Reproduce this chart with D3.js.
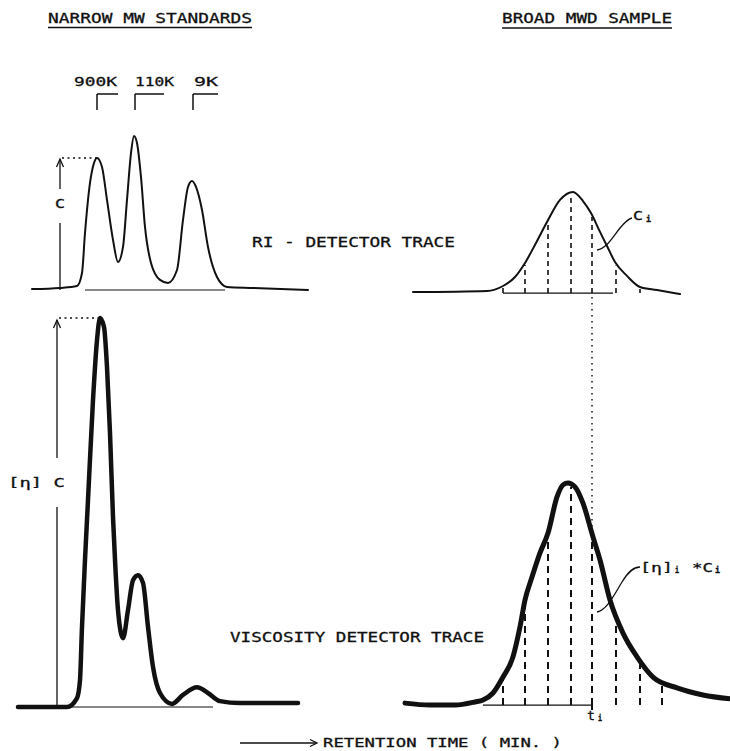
<!DOCTYPE html>
<meta charset="utf-8">
<head>
  <title>GPC viscometry principle</title>
  <style>
    body { margin: 0; background: #fff; }
    text { font-family: "DejaVu Sans Mono", monospace; fill: #111; stroke: #111; stroke-width: 0.3px; }
  </style>
</head>
<body>
<script src="https://cdnjs.cloudflare.com/ajax/libs/d3/7.8.5/d3.min.js"></script>
<script>
var WIDTH = 730,
    HEIGHT = 751;

// [retention time, signal %]
var riStandards = [
  [3.2, 0.6], [6.0, 1.3], [7.7, 2.5], [8.2, 10.6], [8.5, 35.6], [9.0, 66.9],
  [9.4, 79.4], [9.7, 82.5], [10.2, 76.9], [10.7, 56.3], [11.3, 31.3], [11.8, 17.5],
  [12.3, 26.9], [12.7, 56.3], [13.1, 85.6], [13.4, 96.3], [13.7, 91.9], [14.1, 70.6],
  [14.5, 39.4], [15.1, 16.9], [16.0, 6.3], [16.8, 4.4], [17.7, 12.5], [18.3, 43.8],
  [18.8, 64.4], [19.2, 68.1], [19.6, 64.4], [20.2, 50.0], [20.8, 26.9], [21.7, 8.1],
  [22.7, 1.9], [25.3, 1.3], [30.8, 0]
];

var riSample = [
  [41.3, -1.3], [48.7, -0.6], [50.3, 2.5], [51.5, 8.1], [52.5, 16.9], [53.6, 29.4],
  [54.7, 42.5], [56.0, 56.3], [57.3, 61.3], [58.3, 55.6], [59.1, 48.1], [60.0, 36.3],
  [60.7, 27.5], [61.5, 17.5], [62.7, 8.8], [64.0, 1.9], [65.7, 0], [68.0, -2.5]
];

var viscStandards = [
  [1.8, 0], [5.0, 0], [6.7, 0], [7.7, 2.3], [8.0, 6.9], [8.2, 20.6], [8.5, 37.8],
  [8.8, 53.2], [9.3, 78.9], [9.7, 94.3], [10.0, 100], [10.4, 97.7], [10.7, 87.4],
  [11.0, 70.4], [11.3, 48.8], [11.5, 37.8], [11.8, 24.9], [12.3, 17.7], [12.8, 24.9],
  [13.3, 32.6], [13.8, 33.9], [14.3, 31.9], [14.8, 20.6], [15.3, 10.3], [16.0, 3.6],
  [17.2, 0.8], [18.3, 3.1], [19.7, 5.1], [20.8, 3.6], [22.0, 1.5], [24.0, 1.0], [29.8, 1.0]
];

var viscSample = [
  [40.5, 1.0], [43.0, 0.5], [45.5, 0.5], [47.5, 1.3], [48.3, 1.8], [49.3, 3.6],
  [50.3, 7.7], [51.3, 12.9], [52.0, 20.6], [52.5, 27.5], [53.2, 33.4], [54.0, 39.6],
  [54.8, 44.7], [55.7, 54.0], [56.3, 57.1], [56.8, 57.6], [57.5, 56.6], [58.3, 52.4],
  [59.3, 43.7], [60.0, 37.8], [61.0, 27.5], [62.3, 19.0], [63.7, 12.9], [65.3, 7.7],
  [67.7, 4.9], [70.3, 3.1], [73.0, 2.1]
];

var sliceTimes = [50.3, 52.5, 54.8, 57.1, 59.2, 61.6, 64.0, 66.2];
var riSliceCount = 7;
var markedSlice = 4;

var peakNames = ["900K", "110K", "9K"];
var peakTimes = [9.7, 13.5, 19.3];

var x = d3.scaleLinear().domain([0, 73]).range([0, 730]);
var yRI = d3.scaleLinear().domain([0, 100]).range([290, 130]);
var yVisc = d3.scaleLinear().domain([0, 100]).range([707, 318]);

var svg = d3.select("body").append("svg")
    .attr("width", WIDTH)
    .attr("height", HEIGHT);

var ink = "#111";

function trace(data, y, width) {
  var line = d3.line()
      .x(function(d) { return x(d[0]); })
      .y(function(d) { return y(d[1]); })
      .curve(d3.curveMonotoneX);
  return svg.append("path")
      .datum(data)
      .attr("d", line)
      .attr("fill", "none")
      .attr("stroke", ink)
      .attr("stroke-width", width)
      .attr("stroke-linejoin", "round")
      .attr("stroke-linecap", "round");
}

// find y of a drawn curve at pixel column px
function yOnPath(node, px) {
  var lo = 0, hi = node.getTotalLength();
  for (var k = 0; k < 40; k++) {
    var mid = (lo + hi) / 2;
    if (node.getPointAtLength(mid).x < px) lo = mid; else hi = mid;
  }
  return node.getPointAtLength(lo).y;
}

function seg(x1, y1, x2, y2, w, dash) {
  var l = svg.append("line")
      .attr("x1", x1).attr("y1", y1).attr("x2", x2).attr("y2", y2)
      .attr("stroke", ink).attr("stroke-width", w);
  if (dash) l.attr("stroke-dasharray", dash);
  return l;
}

function label(txt, x0, len, yb, size) {
  return svg.append("text")
      .attr("x", x0).attr("y", yb)
      .attr("font-size", size)
      .attr("textLength", len)
      .attr("lengthAdjust", "spacingAndGlyphs")
      .text(txt);
}

function arrowUp(px, py) {
  svg.append("path")
      .attr("d", "M" + (px - 3.5) + "," + (py + 8) + "L" + px + "," + py + "L" + (px + 3.5) + "," + (py + 8))
      .attr("fill", "none").attr("stroke", ink).attr("stroke-width", 1.3);
}

// titles
label("NARROW MW STANDARDS", 48, 204, 23, 14);
seg(48, 27.5, 252, 27.5, 1.5);
label("BROAD MWD SAMPLE", 502, 170, 23, 14);
seg(502, 28, 672, 28, 1.5);

// baselines
seg(x(8.5), yRI(0), x(22.5), yRI(0), 1.2);
seg(x(50.3), yRI(-1.9), x(61.3), yRI(-1.9), 1.2);
seg(x(1.8), yVisc(0), x(21.3), yVisc(0), 1.2);
seg(x(48.3), yVisc(0.5), x(59.3), yVisc(0.5), 1.2);

// traces
var riStdPath = trace(riStandards, yRI, 2);
var riSamPath = trace(riSample, yRI, 2);
var viscStdPath = trace(viscStandards, yVisc, 4.5);
var viscSamPath = trace(viscSample, yVisc, 5);

// slices under the sample curves
sliceTimes.forEach(function(t, i) {
  var px = x(t);
  if (i < riSliceCount) {
    seg(px, yRI(-1.9), px, yOnPath(riSamPath.node(), px) + 2, 1.6, "5,4");
  }
  seg(px, yVisc(0.5), px, yOnPath(viscSamPath.node(), px) + 3, 2, "7,5");
});

// slice t_i carried from RI trace down to viscosity trace
var ti = x(sliceTimes[markedSlice]);
seg(ti, yRI(-1.9) + 4, ti, yOnPath(viscSamPath.node(), ti) - 4, 1.5, "1.5,4.5");
seg(ti, yVisc(0.5), ti, yVisc(0.5) + 5, 2);

// peak markers of standards
var peakLayout = [{dx: -23, len: 43, bar: 21}, {dx: 0, len: 39, bar: 29}, {dx: 1, len: 24, bar: 25}];
peakNames.forEach(function(name, i) {
  var px = x(peakTimes[i]);
  var lay = peakLayout[i];
  label(name, px + lay.dx, lay.len, 86, 13);
  seg(px, 94, px, 110, 1.5);
  seg(px, 94, px + lay.bar, 94, 1.5);
});

// C height marker
var cx = x(6.0), cTop = yRI(riStandards[7][1]);
seg(cx, yRI(0), cx, 223, 1.3);
seg(cx, 189, cx, cTop + 1, 1.3);
arrowUp(cx, cTop + 1);
seg(cx + 2, cTop, x(riStandards[7][0]), cTop, 1.3, "2,3.5");
label("C", cx - 5, 10, 208, 13);

// [eta] C height marker
var vx = x(5.7), vTop = yVisc(100);
seg(vx, yVisc(0), vx, 507, 1.3);
seg(vx, 458, vx, vTop + 2, 1.3);
arrowUp(vx, vTop + 2);
seg(vx + 2, vTop, x(10.0), vTop, 1.3, "2,3.5");
label("[η] C", 8, 57, 487, 13);

// trace names
label("RI - DETECTOR TRACE", 252, 203, 247, 14);
label("VISCOSITY DETECTOR TRACE", 230, 254, 642, 14);

// C_i annotation
svg.append("path")
    .attr("d", "M597,250 C606,249 612,238 620,228 C625,222 628,219 632,218")
    .attr("fill", "none").attr("stroke", ink).attr("stroke-width", 1.3);
label("C", 633, 10, 220, 13);
label("i", 646, 5, 222, 8).attr("font-weight", "bold");

// [eta]_i * C_i annotation
svg.append("path")
    .attr("d", "M597,612 C607,610 614,595 622,582 C628,572 633,567 640,567")
    .attr("fill", "none").attr("stroke", ink).attr("stroke-width", 1.3);
label("[η]", 640, 33, 572, 13);
label("i", 675, 4, 573, 8).attr("font-weight", "bold");
label("*C", 692, 21, 572, 13);
label("i", 715, 5, 573, 8).attr("font-weight", "bold");

// t_i
label("t", 587, 8, 720, 13);
label("i", 598, 4, 721, 8).attr("font-weight", "bold");

// retention time axis note
seg(240, 743, 316, 743, 1.3);
svg.append("path")
    .attr("d", "M310,739.5L317,743L310,746.5")
    .attr("fill", "none").attr("stroke", ink).attr("stroke-width", 1.3);
label("RETENTION TIME ( MIN. )", 323, 239, 747, 13);
</script>
</body>
